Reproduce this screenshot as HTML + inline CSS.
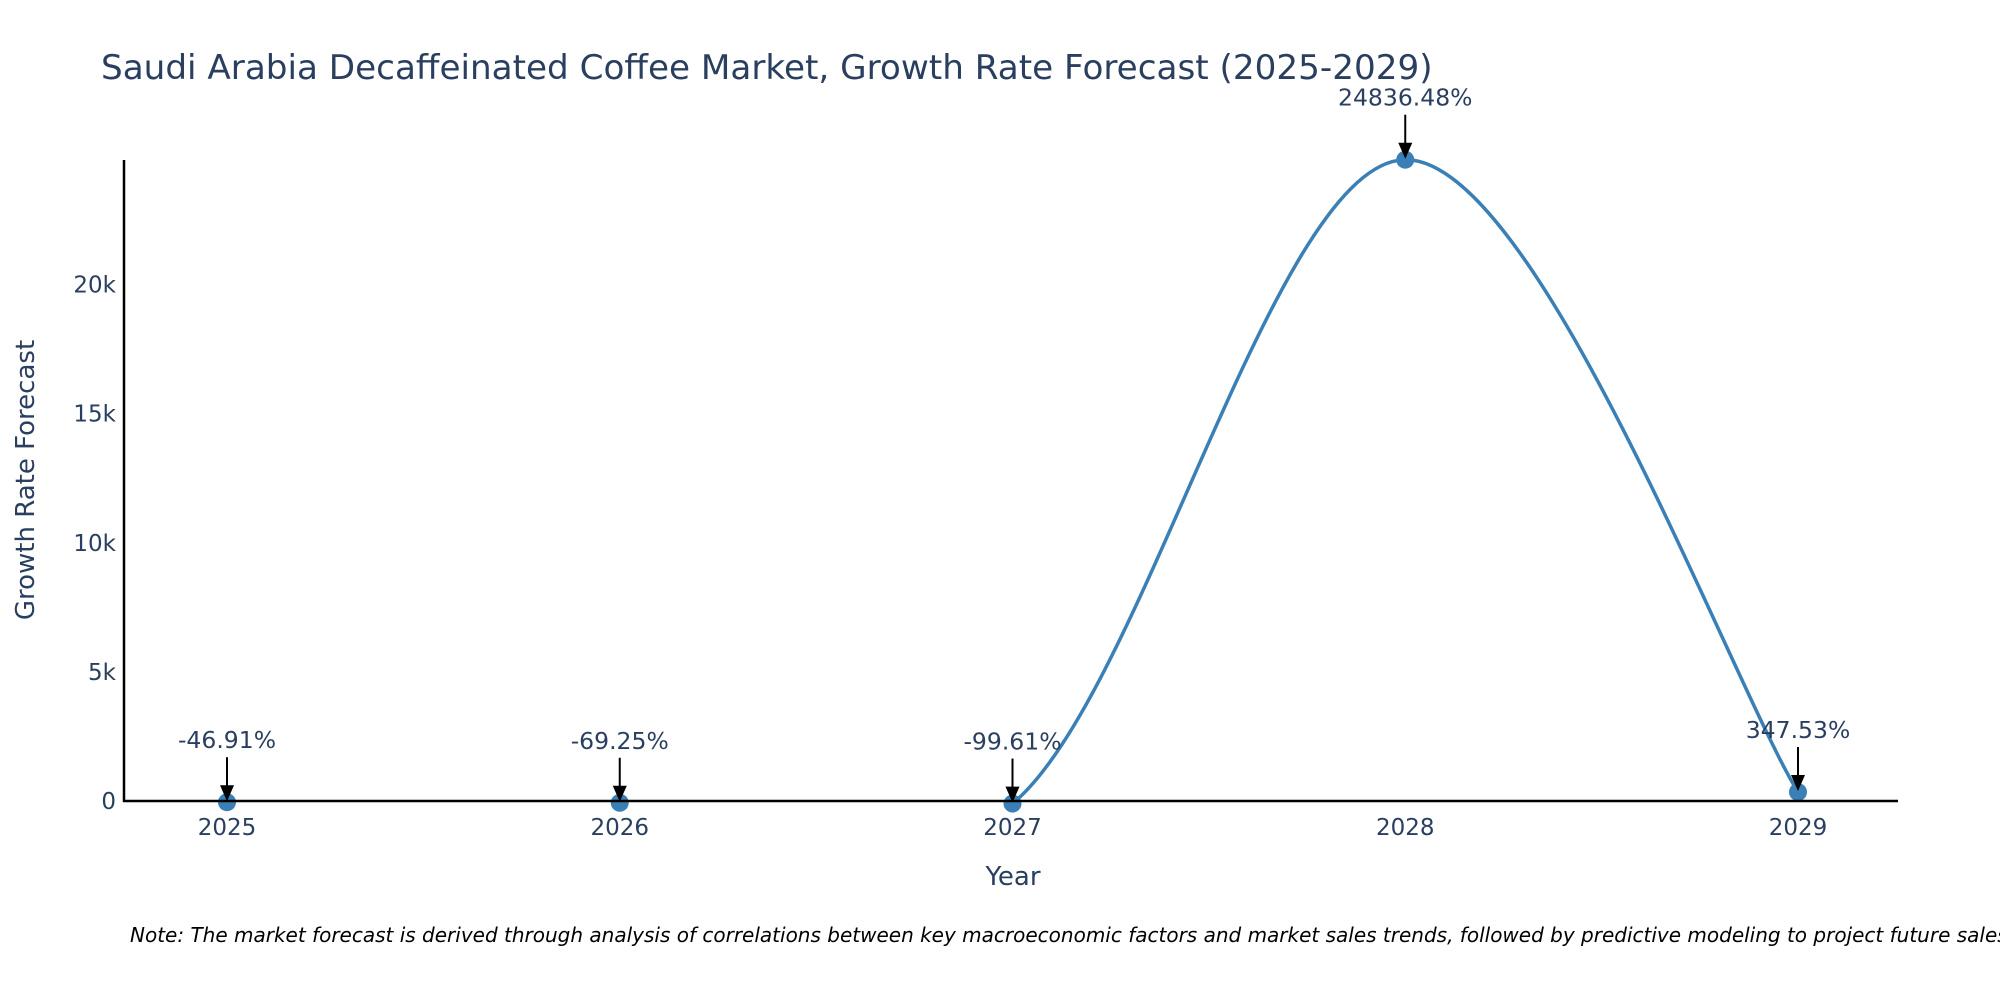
<!DOCTYPE html>
<html><head><meta charset="utf-8"><style>
body{margin:0;background:#fff;width:2000px;height:1000px;overflow:hidden}
text{font-family:"DejaVu Sans","Liberation Sans",sans-serif;fill:#2a3f5f}
</style></head><body>
<svg id="chart" width="2000" height="1000">
<defs><clipPath id="clip"><rect x="124" y="100" width="1774" height="702"/></clipPath></defs>
<text x="101" y="79" font-size="34.2">Saudi Arabia Decaffeinated Coffee Market, Growth Rate Forecast (2025-2029)</text>
<g id="yticks"></g><g id="xticks"></g>
<g id="series" clip-path="url(#clip)"></g>
<g id="markers"></g>
<line x1="124" y1="160" x2="124" y2="802" stroke="#000" stroke-width="2.5"/>
<line x1="123" y1="801" x2="1898" y2="801" stroke="#000" stroke-width="2.5"/>
<g id="annots"></g>
<text x="1013" y="885" font-size="26" text-anchor="middle">Year</text>
<text transform="translate(34,480) rotate(-90)" font-size="26" text-anchor="middle">Growth Rate Forecast</text>
<text x="130" y="942" font-size="20" font-style="italic" style="fill:#000">Note: The market forecast is derived through analysis of correlations between key macroeconomic factors and market sales trends, followed by predictive modeling to project future sales</text>
</svg>
<script>
const years=[2025,2026,2027,2028,2029];
const values=[-46.91,-69.25,-99.61,24836.48,347.53];
const labels=["-46.91%","-69.25%","-99.61%","24836.48%","347.53%"];
const yTicks=[0,5000,10000,15000,20000];
const yTickLabels=["0","5k","10k","15k","20k"];
const NS="http://www.w3.org/2000/svg";
const xs=v=>227+(v-2025)*392.75;
const ys=v=>801-v*(129.1/5000);
function mk(t,a,p){const e=document.createElementNS(NS,t);for(const k in a)e.setAttribute(k,a[k]);p.appendChild(e);return e;}
const yt=document.getElementById('yticks'),xt=document.getElementById('xticks');
yTicks.forEach((v,i)=>{const t=mk('text',{x:116,y:ys(v)+8,'font-size':23,'text-anchor':'end'},yt);t.textContent=yTickLabels[i];

});
years.forEach(y=>{const t=mk('text',{x:xs(y),y:835,'font-size':23,'text-anchor':'middle'},xt);t.textContent=y;

});
const pts=years.map((y,i)=>[xs(y),ys(values[i])]);
let d='M'+pts[0][0]+','+pts[0][1];const s=1/3;
for(let i=0;i<pts.length-1;i++){const p0=pts[Math.max(0,i-1)],p1=pts[i],p2=pts[i+1],p3=pts[Math.min(pts.length-1,i+2)];
const c1=[p1[0]+(p2[0]-p0[0])*s/2,p1[1]+(p2[1]-p0[1])*s/2];
const c2=[p2[0]-(p3[0]-p1[0])*s/2,p2[1]-(p3[1]-p1[1])*s/2];
d+=` C${c1[0]},${c1[1]} ${c2[0]},${c2[1]} ${p2[0]},${p2[1]}`;}
const g=document.getElementById('series');
const line=mk('path',{d:d,fill:'none',stroke:'#3a7fb5','stroke-width':3.5},g);


const mg=document.getElementById('markers');
pts.forEach((p,i)=>{const c=mk('circle',{cx:p[0],cy:p[1],r:9,fill:'#3a7fb5'},mg);

});
const an=document.getElementById('annots');
pts.forEach((p,i)=>{const l=mk('line',{x1:p[0],y1:p[1]-45,x2:p[0],y2:p[1]-14,stroke:'#000','stroke-width':2},an);


const h=mk('polygon',{points:`${p[0]-7},${p[1]-17} ${p[0]+7},${p[1]-17} ${p[0]},${p[1]-1}`,fill:'#000'},an);


const t=mk('text',{x:p[0],y:p[1]-54,'font-size':23.5,'text-anchor':'middle'},an);t.textContent=labels[i];

});
</script>
</body></html>
